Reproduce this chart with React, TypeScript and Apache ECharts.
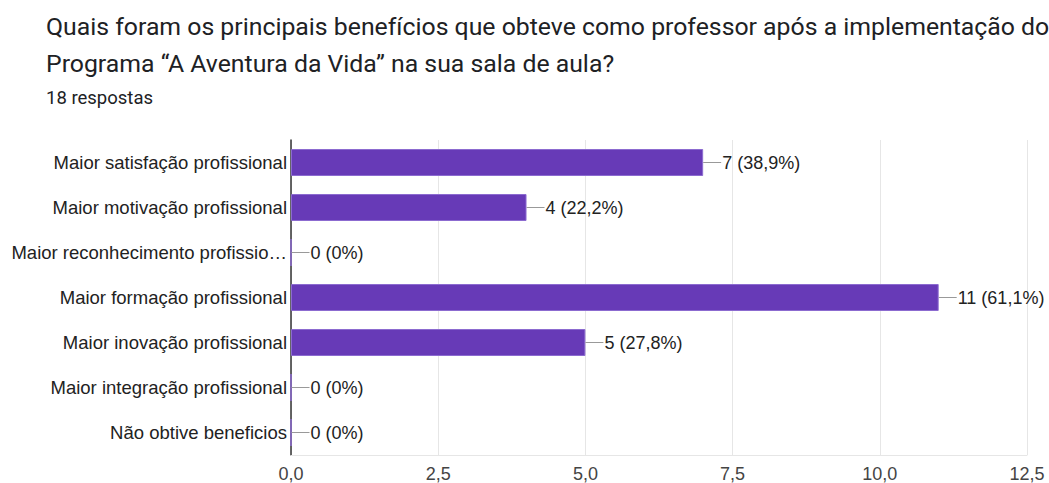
import React, { useEffect, useRef } from "react";
import * as echarts from "echarts";

const titleLines = [
  "Quais foram os principais benefícios que obteve como professor após a implementação do",
  "Programa “A Aventura da Vida” na sua sala de aula?",
];
const subtitle = "18 respostas";
const categories = [
  "Maior satisfação profissional",
  "Maior motivação profissional",
  "Maior reconhecimento profissional",
  "Maior formação profissional",
  "Maior inovação profissional",
  "Maior integração profissional",
  "Não obtive beneficios",
];
const counts = [7, 4, 0, 11, 5, 0, 0];
const percents = ["38,9%", "22,2%", "0%", "61,1%", "27,8%", "0%", "0%"];
const xTicks = { min: 0, max: 12.5, interval: 2.5 };

export default function App() {
  const ref = useRef<HTMLDivElement>(null);
  useEffect(() => {
    document.body.style.margin = "0";
    const chart = echarts.init(ref.current!, null, { renderer: "svg" });
    chart.setOption({
      animation: false,
      textStyle: { fontFamily: "Liberation Sans, Arial, sans-serif" },
      title: [
        {
          text: titleLines.join("\n"),
          left: 41,
          top: 3,
          textStyle: {
            fontFamily: "Roboto",
            fontSize: 24.8,
            fontWeight: "normal",
            color: "#202124",
            lineHeight: 37,
          },
        },
        {
          text: subtitle,
          left: 41,
          top: 83,
          textStyle: {
            fontFamily: "Roboto",
            fontSize: 18.5,
            fontWeight: "normal",
            color: "#202124",
          },
        },
      ],
      grid: { left: 291, right: 22, top: 140, bottom: 28, containLabel: false },
      xAxis: {
        type: "value",
        min: xTicks.min,
        max: xTicks.max,
        interval: xTicks.interval,
        axisLine: { show: true, lineStyle: { color: "#e6e6e6", width: 1 } },
        axisTick: { show: false },
        splitLine: { show: true, lineStyle: { color: "#e6e6e6", width: 1 } },
        axisLabel: {
          color: "#444",
          fontSize: 18,
          margin: 10,
          formatter: (v: number) => v.toFixed(1).replace(".", ","),
        },
      },
      yAxis: {
        type: "category",
        data: categories,
        inverse: true,
        axisLine: { show: true, lineStyle: { color: "#333", width: 1.5 } },
        axisTick: { show: false },
        axisLabel: {
          color: "#222",
          fontSize: 18.5,
          margin: 4,
          width: 281,
          overflow: "truncate",
          ellipsis: "…",
        },
      },
      series: [
        {
          type: "bar",
          data: counts,
          barWidth: "60%",
          itemStyle: { color: "#673ab7", borderColor: "#8c6bd0", borderWidth: 1 },
          label: {
            show: true,
            position: "right",
            distance: 0,
            formatter: (p: any) => `{ln|}{t|${p.value} (${percents[p.dataIndex]})}`,
            rich: {
              ln: { width: 18, height: 1, backgroundColor: "#999" },
              t: { fontSize: 18, color: "#222", padding: [0, 0, 0, 1] },
            },
          },
        },
      ],
    });
    return () => chart.dispose();
  }, []);
  return <div ref={ref} style={{ width: 1049, height: 483 }} />;
}
